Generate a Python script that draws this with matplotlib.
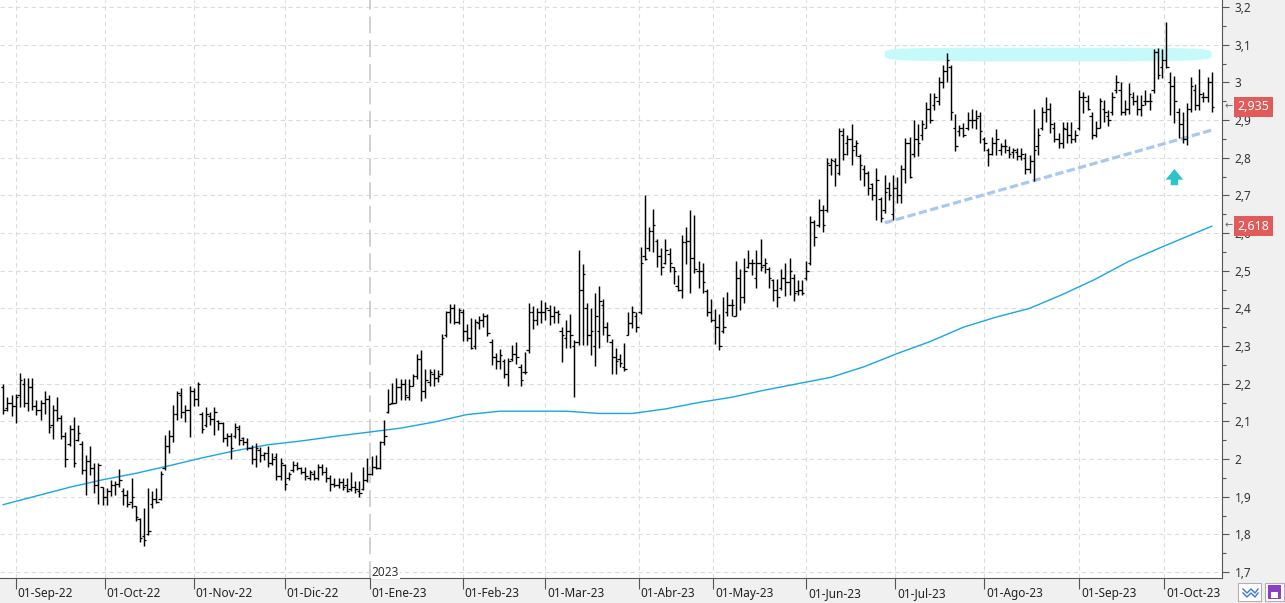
"""Daily OHLC bars with moving average, support line and resistance band."""

import matplotlib

matplotlib.use("Agg")
import matplotlib.pyplot as plt
import matplotlib.transforms as mtransforms
import numpy as np
import pandas as pd
from matplotlib.lines import Line2D
from matplotlib.patches import Polygon, Rectangle
from matplotlib.ticker import FuncFormatter, MultipleLocator

plt.rcParams["font.family"] = ["Noto Sans", "DejaVu Sans"]

START = "2022-08-29"
HOLIDAYS = ["2022-12-26", "2023-04-07", "2023-04-10", "2023-05-01"]
MONTHS = ["Ene", "Feb", "Mar", "Abr", "May", "Jun", "Jul", "Ago", "Sep", "Oct", "Nov", "Dic"]

highs = [
    2.200, 2.165, 2.169, 2.173, 2.228, 2.215, 2.215, 2.215, 2.158, 2.158,
    2.180, 2.171, 2.144, 2.166, 2.118, 2.071, 2.091, 2.111, 2.091, 2.047,
    2.012, 2.034, 1.989, 1.989, 1.927, 1.923, 1.945, 1.941, 1.973, 1.923,
    1.918, 1.950, 1.876, 1.843, 1.870, 1.923, 1.914, 1.923, 1.967, 2.063,
    2.078, 2.144,
    2.181, 2.188, 2.143, 2.194, 2.188, 2.204, 2.126, 2.137, 2.126, 2.137,
    2.104, 2.099, 2.070, 2.068, 2.095, 2.090, 2.059, 2.055, 2.038, 2.042,
    2.033, 2.020, 2.035, 2.015, 2.015, 2.002, 1.988, 1.966, 1.995, 1.993,
    1.980, 1.980, 1.971, 1.971, 1.988, 1.988, 1.980, 1.957, 1.949, 1.949,
    1.949,
    1.950, 1.965, 1.942, 1.942, 1.980, 2.004, 2.008, 2.010, 2.048, 2.104,
    2.187, 2.201, 2.216, 2.212, 2.213, 2.212, 2.227, 2.278, 2.289, 2.240,
    2.240, 2.240, 2.236, 2.331, 2.393, 2.411, 2.411, 2.402, 2.397, 2.358,
    2.375, 2.371, 2.381, 2.387, 2.384, 2.319, 2.282, 2.291, 2.266, 2.269,
    2.302, 2.311, 2.251,
    2.283, 2.413, 2.407, 2.402, 2.422, 2.418, 2.409, 2.407, 2.396, 2.351,
    2.369, 2.384, 2.316, 2.555, 2.519, 2.413, 2.402, 2.440, 2.459, 2.424,
    2.365, 2.319, 2.296, 2.278, 2.309, 2.391, 2.407, 2.391, 2.564, 2.701,
    2.617, 2.664, 2.583, 2.561, 2.584, 2.559, 2.511, 2.488, 2.595, 2.617,
    2.661, 2.648,
    2.525, 2.520, 2.452, 2.425, 2.398, 2.385, 2.429, 2.443, 2.426, 2.527,
    2.505, 2.534, 2.556, 2.532, 2.556, 2.585, 2.534, 2.509, 2.479, 2.479,
    2.505, 2.520, 2.534, 2.491, 2.476, 2.476, 2.525, 2.644, 2.635, 2.691,
    2.675, 2.799, 2.799, 2.799, 2.879, 2.879, 2.861, 2.889, 2.848, 2.810,
    2.781, 2.764, 2.733,
    2.772, 2.696, 2.754, 2.736, 2.754, 2.748, 2.781, 2.851, 2.856, 2.900,
    2.889, 2.900, 2.949, 2.973, 2.973, 3.015, 3.046, 3.079, 3.046, 2.916,
    2.887, 2.891, 2.922, 2.928, 2.927, 2.920, 2.856, 2.825, 2.854, 2.875,
    2.838, 2.849, 2.831, 2.827, 2.825, 2.825, 2.812, 2.807, 2.928, 2.878,
    2.935,
    2.962, 2.944, 2.896, 2.865, 2.896, 2.896, 2.896, 2.873, 2.980, 2.975,
    2.966, 2.922, 2.897, 2.958, 2.953, 2.927, 2.975, 3.019, 3.002, 2.953,
    2.997, 2.975, 2.966, 2.966, 2.980, 2.971, 3.089, 3.092, 3.089, 3.161,
    3.027, 3.018, 2.931, 2.920, 2.944, 3.015, 2.995, 3.035, 2.975, 3.015,
    3.028,
]

lows = [
    2.119, 2.127, 2.114, 2.096, 2.138, 2.138, 2.127, 2.129, 2.116, 2.104,
    2.119, 2.069, 2.054, 2.100, 2.054, 1.978, 2.034, 1.978, 2.047, 1.961,
    1.904, 1.958, 1.911, 1.881, 1.879, 1.879, 1.901, 1.905, 1.927, 1.879,
    1.874, 1.870, 1.835, 1.781, 1.768, 1.799, 1.870, 1.883, 1.892, 1.972,
    2.016, 2.045,
    2.104, 2.108, 2.099, 2.058, 2.141, 2.141, 2.068, 2.086, 2.090, 2.064,
    2.077, 2.044, 2.035, 1.999, 2.055, 2.038, 2.038, 2.024, 1.988, 1.980,
    1.993, 1.997, 1.980, 1.984, 1.944, 1.944, 1.919, 1.944, 1.966, 1.970,
    1.961, 1.944, 1.944, 1.944, 1.944, 1.957, 1.940, 1.916, 1.927, 1.922,
    1.919,
    1.912, 1.915, 1.911, 1.900, 1.917, 1.939, 1.957, 1.973, 1.973, 2.036,
    2.121, 2.145, 2.150, 2.157, 2.157, 2.157, 2.194, 2.212, 2.154, 2.163,
    2.194, 2.194, 2.204, 2.222, 2.325, 2.362, 2.358, 2.358, 2.313, 2.313,
    2.291, 2.291, 2.344, 2.351, 2.327, 2.249, 2.240, 2.238, 2.216, 2.194,
    2.260, 2.251, 2.194,
    2.225, 2.282, 2.344, 2.356, 2.360, 2.369, 2.356, 2.360, 2.360, 2.258,
    2.294, 2.294, 2.164, 2.303, 2.304, 2.303, 2.276, 2.248, 2.294, 2.329,
    2.312, 2.227, 2.227, 2.245, 2.234, 2.329, 2.349, 2.338, 2.384, 2.528,
    2.552, 2.549, 2.511, 2.488, 2.519, 2.497, 2.464, 2.446, 2.428, 2.519,
    2.442, 2.493,
    2.454, 2.441, 2.379, 2.365, 2.305, 2.290, 2.335, 2.379, 2.379, 2.379,
    2.396, 2.414, 2.507, 2.488, 2.454, 2.498, 2.494, 2.454, 2.419, 2.403,
    2.450, 2.432, 2.436, 2.420, 2.436, 2.436, 2.476, 2.514, 2.565, 2.615,
    2.604, 2.656, 2.753, 2.724, 2.753, 2.795, 2.808, 2.781, 2.804, 2.742,
    2.724, 2.702, 2.688,
    2.635, 2.630, 2.652, 2.688, 2.635, 2.679, 2.681, 2.734, 2.745, 2.803,
    2.804, 2.847, 2.878, 2.891, 2.927, 2.940, 2.984, 3.002, 2.900, 2.819,
    2.858, 2.854, 2.873, 2.878, 2.875, 2.840, 2.819, 2.778, 2.807, 2.807,
    2.807, 2.812, 2.798, 2.798, 2.794, 2.794, 2.758, 2.760, 2.739, 2.807,
    2.873,
    2.894, 2.865, 2.842, 2.825, 2.825, 2.838, 2.838, 2.842, 2.873, 2.918,
    2.927, 2.850, 2.856, 2.878, 2.896, 2.885, 2.913, 2.971, 2.913, 2.913,
    2.915, 2.940, 2.913, 2.911, 2.940, 2.927, 2.971, 3.009, 3.012, 3.039,
    2.913, 2.891, 2.853, 2.838, 2.835, 2.922, 2.927, 2.927, 2.949, 2.947,
    2.920,
]

opens = [
    2.190, 2.135, 2.150, 2.140, 2.170, 2.200, 2.150, 2.190, 2.140, 2.130,
    2.150, 2.160, 2.090, 2.130, 2.110, 2.060, 2.040, 2.080, 2.050, 2.040,
    1.970, 1.995, 1.975, 1.930, 1.925, 1.900, 1.915, 1.930, 1.935, 1.915,
    1.905, 1.885, 1.875, 1.840, 1.795, 1.800, 1.880, 1.895, 1.895, 1.975,
    2.035, 2.060,
    2.120, 2.170, 2.125, 2.130, 2.180, 2.160, 2.120, 2.090, 2.115, 2.105,
    2.100, 2.095, 2.055, 2.060, 2.060, 2.080, 2.055, 2.045, 2.030, 2.000,
    2.025, 2.010, 2.015, 1.990, 2.005, 1.955, 1.985, 1.950, 1.970, 1.985,
    1.975, 1.965, 1.950, 1.960, 1.950, 1.980, 1.965, 1.950, 1.935, 1.930,
    1.940,
    1.930, 1.920, 1.925, 1.915, 1.920, 1.945, 1.960, 1.980, 1.975, 2.045,
    2.125, 2.150, 2.150, 2.190, 2.200, 2.165, 2.195, 2.220, 2.265, 2.180,
    2.205, 2.225, 2.215, 2.225, 2.330, 2.390, 2.400, 2.365, 2.390, 2.340,
    2.320, 2.300, 2.360, 2.370, 2.380, 2.310, 2.270, 2.260, 2.260, 2.225,
    2.265, 2.280, 2.245,
    2.230, 2.290, 2.390, 2.370, 2.390, 2.390, 2.395, 2.380, 2.390, 2.340,
    2.320, 2.340, 2.300, 2.310, 2.450, 2.400, 2.330, 2.300, 2.340, 2.410,
    2.350, 2.310, 2.270, 2.265, 2.245, 2.330, 2.360, 2.380, 2.390, 2.540,
    2.560, 2.605, 2.580, 2.540, 2.520, 2.545, 2.510, 2.460, 2.450, 2.575,
    2.580, 2.535,
    2.500, 2.500, 2.445, 2.390, 2.370, 2.350, 2.340, 2.390, 2.410, 2.380,
    2.480, 2.430, 2.510, 2.520, 2.480, 2.520, 2.515, 2.505, 2.475, 2.450,
    2.455, 2.480, 2.470, 2.480, 2.445, 2.450, 2.480, 2.520, 2.630, 2.620,
    2.660, 2.660, 2.780, 2.790, 2.760, 2.860, 2.840, 2.850, 2.830, 2.805,
    2.770, 2.760, 2.730,
    2.700, 2.690, 2.660, 2.720, 2.650, 2.720, 2.700, 2.770, 2.840, 2.810,
    2.850, 2.860, 2.880, 2.930, 2.940, 2.950, 3.000, 3.030, 3.040, 2.880,
    2.870, 2.880, 2.880, 2.900, 2.900, 2.910, 2.850, 2.820, 2.810, 2.840,
    2.820, 2.830, 2.820, 2.815, 2.815, 2.805, 2.800, 2.770, 2.790, 2.830,
    2.880,
    2.920, 2.930, 2.880, 2.850, 2.840, 2.875, 2.860, 2.850, 2.880, 2.960,
    2.950, 2.910, 2.860, 2.880, 2.930, 2.910, 2.920, 2.980, 2.980, 2.920,
    2.930, 2.960, 2.950, 2.930, 2.950, 2.950, 2.980, 3.080, 3.040, 3.060,
    3.000, 2.990, 2.920, 2.890, 2.850, 2.930, 2.980, 2.940, 2.960, 2.960,
    3.000,
]

closes = [
    2.130, 2.150, 2.140, 2.165, 2.210, 2.150, 2.190, 2.140, 2.130, 2.150,
    2.160, 2.085, 2.130, 2.110, 2.060, 2.000, 2.080, 1.990, 2.070, 1.970,
    1.995, 1.975, 1.930, 1.985, 1.900, 1.915, 1.930, 1.935, 1.945, 1.905,
    1.880, 1.900, 1.845, 1.790, 1.785, 1.810, 1.895, 1.885, 1.960, 2.035,
    2.060, 2.120,
    2.175, 2.125, 2.130, 2.180, 2.160, 2.200, 2.080, 2.120, 2.105, 2.125,
    2.095, 2.055, 2.060, 2.030, 2.085, 2.050, 2.045, 2.030, 2.000, 2.030,
    2.010, 2.015, 1.990, 2.000, 1.955, 1.990, 1.935, 1.960, 1.985, 1.975,
    1.965, 1.955, 1.965, 1.950, 1.980, 1.965, 1.950, 1.935, 1.930, 1.940,
    1.925,
    1.915, 1.925, 1.920, 1.910, 1.945, 1.960, 1.980, 1.975, 2.045, 2.060,
    2.145, 2.150, 2.190, 2.200, 2.170, 2.195, 2.220, 2.265, 2.180, 2.210,
    2.230, 2.215, 2.220, 2.320, 2.390, 2.400, 2.365, 2.395, 2.340, 2.320,
    2.295, 2.365, 2.370, 2.380, 2.335, 2.270, 2.260, 2.275, 2.225, 2.260,
    2.280, 2.270, 2.210,
    2.230, 2.390, 2.370, 2.390, 2.390, 2.400, 2.380, 2.390, 2.385, 2.330,
    2.340, 2.330, 2.310, 2.450, 2.490, 2.330, 2.340, 2.380, 2.420, 2.350,
    2.330, 2.270, 2.260, 2.255, 2.240, 2.360, 2.390, 2.350, 2.520, 2.530,
    2.605, 2.620, 2.540, 2.510, 2.555, 2.520, 2.500, 2.450, 2.575, 2.580,
    2.535, 2.505,
    2.500, 2.470, 2.390, 2.370, 2.350, 2.300, 2.350, 2.410, 2.410, 2.480,
    2.430, 2.500, 2.520, 2.520, 2.520, 2.510, 2.520, 2.480, 2.450, 2.430,
    2.480, 2.470, 2.500, 2.440, 2.450, 2.440, 2.500, 2.630, 2.590, 2.660,
    2.620, 2.785, 2.795, 2.780, 2.870, 2.810, 2.850, 2.820, 2.840, 2.780,
    2.760, 2.720, 2.700,
    2.740, 2.640, 2.710, 2.700, 2.720, 2.700, 2.770, 2.840, 2.750, 2.850,
    2.840, 2.890, 2.930, 2.900, 2.960, 3.000, 3.030, 3.060, 2.920, 2.830,
    2.880, 2.860, 2.900, 2.900, 2.905, 2.870, 2.840, 2.810, 2.840, 2.850,
    2.830, 2.830, 2.810, 2.820, 2.805, 2.810, 2.770, 2.790, 2.820, 2.860,
    2.920,
    2.930, 2.890, 2.850, 2.840, 2.880, 2.860, 2.850, 2.860, 2.960, 2.960,
    2.930, 2.860, 2.880, 2.950, 2.920, 2.900, 2.960, 3.000, 2.920, 2.930,
    2.970, 2.950, 2.930, 2.940, 2.950, 2.950, 3.080, 3.020, 3.060, 3.040,
    2.990, 2.950, 2.890, 2.850, 2.930, 2.990, 2.940, 2.970, 2.960, 3.000,
    2.935,
]

# moving average, read at every 8th bar
ma_bars = [0, 8, 16, 24, 32, 40, 48, 56, 64, 72, 80, 88, 96, 104, 112, 120, 128, 136,
           144, 152, 160, 168, 176, 184, 192, 200, 208, 216, 224, 232, 240, 248, 256,
           264, 272, 280, 292]
ma_values = [1.879, 1.902, 1.925, 1.945, 1.962, 1.982, 2.003, 2.022, 2.038, 2.048,
             2.060, 2.071, 2.082, 2.098, 2.118, 2.127, 2.127, 2.127, 2.121, 2.121,
             2.133, 2.150, 2.164, 2.183, 2.200, 2.217, 2.245, 2.280, 2.312, 2.350,
             2.377, 2.400, 2.437, 2.478, 2.525, 2.563, 2.618]

last_price = 2.935
ma_last = 2.618

support_dates = ["2023-06-28", "2023-10-17"]
support_prices = [2.627, 2.873]
resist_dates = ["2023-06-28", "2023-10-17"]
resist_level = 3.074
arrow_date = "2023-10-04"
arrow_prices = [2.727, 2.770]

assert len(highs) == len(lows) == len(opens) == len(closes)

dates = pd.bdate_range(START, periods=len(highs), freq="C", holidays=HOLIDAYS)
x = np.arange(len(dates))


def date_pos(d):
    d = pd.Timestamp(d)
    i = dates.searchsorted(d)
    return i if dates[i] == d else i - 0.5


def fmt_price(v, _pos=None):
    s = f"{v:.1f}"
    if s.endswith(".0"):
        s = s[:-2]
    return s.replace(".", ",")


W, H = 1285, 603
fig = plt.figure(figsize=(W / 100, H / 100), dpi=100, facecolor="#f0f0f0")
ax = fig.add_axes([0, 25 / H, 1222 / W, 578 / H])
ax.set_facecolor("white")
ax.set_xlim(-0.8, 294.5)
ax.set_ylim(1.6842, 3.2186)

grid_color = "#dcdcdc"
month_starts = pd.date_range("2022-09-01", "2023-10-01", freq="MS")
month_pos = [date_pos(m) for m in month_starts]
for m, p in zip(month_starts, month_pos):
    if m.month == 1:
        ax.axvline(p, color="#c4c4c4", lw=1.1, ls=(0, (11, 4.5)), zorder=0.6)
    else:
        ax.axvline(p, color=grid_color, lw=0.8, ls=(0, (4, 3)), zorder=0.5)
for lvl in np.arange(1.7, 3.25, 0.1):
    ax.axhline(lvl, color=grid_color, lw=0.8, ls=(0, (4, 3)), zorder=0.5)

# resistance band (highlighter shape)
r0, r1 = date_pos(resist_dates[0]), date_pos(resist_dates[1])
t = np.linspace(0, 2 * np.pi, 300)
ex = 5.0
band_x = (r0 + r1) / 2 + (r1 - r0) / 2 * np.sign(np.cos(t)) * np.abs(np.cos(t)) ** (2 / ex)
band_y = resist_level + 0.018 * np.sign(np.sin(t)) * np.abs(np.sin(t)) ** (2 / ex)
ax.add_patch(Polygon(np.column_stack([band_x, band_y]), closed=True,
                     fc="#c6fafa", ec="none", zorder=1))

# moving average
ax.plot(ma_bars, ma_values, color="#19a6e4", lw=1.0, zorder=2)

# OHLC bars
ax.vlines(x, lows, highs, color="black", lw=1.05, zorder=3)
ax.hlines(opens, x - 0.6, x, color="black", lw=0.9, zorder=3)
ax.hlines(closes, x, x + 0.6, color="black", lw=0.9, zorder=3)

# support line
ax.plot([date_pos(d) for d in support_dates], support_prices, color="#a9c8ef",
        lw=2.3, ls=(0, (2.6, 1.1)), dash_capstyle="butt", zorder=2.5)

# up arrow
xa = date_pos(arrow_date)
ax.annotate("", xy=(xa, arrow_prices[1]), xytext=(xa, arrow_prices[0]),
            arrowprops=dict(arrowstyle="simple,head_length=0.55,head_width=0.9,tail_width=0.38",
                            mutation_scale=14, color="#2cc4c8", lw=0, shrinkA=0, shrinkB=0),
            annotation_clip=False, zorder=4)

# year separator label
ax.text(date_pos("2023-01-01") + 0.5, 1.700, "2023", fontsize=8.5, color="#333333",
        ha="left", va="center", zorder=4,
        bbox=dict(boxstyle="square,pad=0.05", fc="white", ec="none"))

# right price axis
ax.yaxis.tick_right()
ax.yaxis.set_major_locator(MultipleLocator(0.1))
ax.yaxis.set_minor_locator(MultipleLocator(0.05))
ax.yaxis.set_major_formatter(FuncFormatter(fmt_price))
ax.tick_params(axis="y", which="major", length=5, width=0.8, color="#555555",
               labelsize=8.5, labelcolor="#333333", pad=4)
ax.tick_params(axis="y", which="minor", length=3, width=0.8, color="#555555")

# bottom date axis
ax.set_xticks(month_pos)
ax.set_xticklabels([])
ax.tick_params(axis="x", which="major", length=8, width=0.8, color="#555555", direction="out")
trans_x = mtransforms.blended_transform_factory(ax.transData, ax.transAxes)
for m, p in zip(month_starts, month_pos):
    ax.text(p + 0.5, -0.027, f"01-{MONTHS[m.month - 1]}-{m:%y}", transform=trans_x,
            ha="left", va="center", fontsize=8.5, color="#222222", clip_on=False)

for side in ("top", "left"):
    ax.spines[side].set_visible(False)
for side in ("right", "bottom"):
    ax.spines[side].set_color("#555555")
    ax.spines[side].set_linewidth(0.8)

# last value tags
trans_y = mtransforms.blended_transform_factory(ax.transAxes, ax.transData)
for val in (last_price, ma_last):
    ax.text(1.0125, val, f"{val:.3f}".replace(".", ","), transform=trans_y,
            ha="left", va="center", color="white", fontsize=9, clip_on=False, zorder=10,
            bbox=dict(boxstyle="square,pad=0.3", fc="#e25b5b", ec="none"))
    ax.text(1.002, val, "\u2190", transform=trans_y, ha="left", va="center",
            color="#666666", fontsize=7, clip_on=False, zorder=10)


# small toolbar icons in the bottom right corner
def fig_box(px, py, pw, ph):
    return (px / W, 1 - (py + ph) / H), pw / W, ph / H


xy, w, h = fig_box(1238, 583, 23, 18)
fig.add_artist(Rectangle(xy, w, h, transform=fig.transFigure, fc="white", ec="#b0b0b0", lw=0.8))
for dy in (0, 4):
    zx = np.array([1243, 1247, 1251, 1255, 1258]) / W
    zy = 1 - (np.array([589, 593, 589, 593, 589]) + dy) / H
    fig.add_artist(Line2D(zx, zy, transform=fig.transFigure, color="#3b78d8", lw=1.0))
xy, w, h = fig_box(1265, 583, 19, 18)
fig.add_artist(Rectangle(xy, w, h, transform=fig.transFigure, fc="white", ec="#b0b0b0", lw=0.8))
xy, w, h = fig_box(1268, 585, 13, 14)
fig.add_artist(Rectangle(xy, w, h, transform=fig.transFigure, fc="#8a3fc4", ec="none"))
xy, w, h = fig_box(1271, 592, 7, 6)
fig.add_artist(Rectangle(xy, w, h, transform=fig.transFigure, fc="white", ec="none"))

fig.savefig("out.png", dpi=100, facecolor=fig.get_facecolor())
